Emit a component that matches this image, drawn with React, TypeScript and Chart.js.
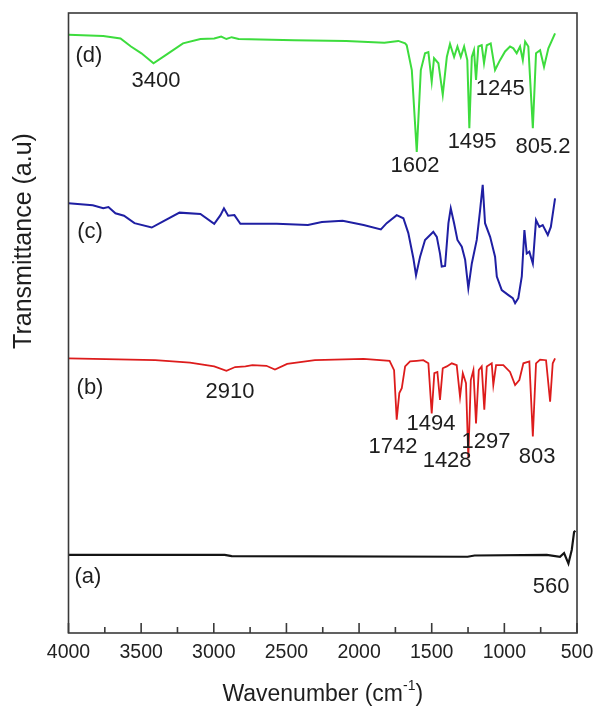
import React, { useEffect, useRef } from "react";
import { Chart, registerables } from "chart.js";

Chart.register(...registerables);

// ---- Data: wavenumber (cm-1) and stacked transmittance (a.u.) ----
const waveD = [4000, 3761, 3642, 3570, 3498, 3415, 3331, 3212, 3092, 2997, 2949, 2913, 2877, 2829, 2447, 2089, 1826, 1730, 1683, 1672, 1637, 1603, 1575, 1546, 1523, 1500, 1484, 1454, 1424, 1396, 1374, 1346, 1323, 1300, 1277, 1255, 1241, 1224, 1209, 1195, 1179, 1156, 1140, 1121, 1094, 1064, 1030, 995, 961, 938, 915, 892, 873, 857, 835, 804, 782, 754, 727, 697, 651];
const transD = [96.5, 96.3, 95.9, 94.6, 93.5, 91.9, 93.2, 95.1, 95.8, 95.9, 96.2, 95.8, 96.1, 95.8, 95.6, 95.5, 95.2, 95.5, 95.1, 94.8, 90.8, 77.6, 90.8, 93.5, 93.7, 88.9, 92.7, 91.9, 86.8, 92.9, 95.0, 92.9, 94.6, 92.9, 94.6, 92.4, 81.4, 92.9, 94.0, 89.2, 94.6, 94.8, 91.9, 94.8, 95.1, 90.8, 92.4, 93.8, 94.6, 94.3, 93.5, 94.6, 92.4, 95.4, 94.6, 81.4, 93.5, 94.0, 91.3, 94.3, 96.7];

const waveC = [4000, 3833, 3761, 3725, 3677, 3618, 3546, 3427, 3355, 3236, 3092, 2997, 2954, 2930, 2901, 2858, 2817, 2567, 2352, 2256, 2113, 1969, 1850, 1810, 1741, 1695, 1661, 1626, 1608, 1580, 1546, 1511, 1489, 1465, 1443, 1431, 1408, 1385, 1369, 1346, 1323, 1293, 1270, 1248, 1224, 1190, 1167, 1149, 1133, 1098, 1064, 1052, 1018, 972, 942, 926, 904, 880, 862, 846, 828, 804, 782, 759, 736, 701, 680, 651];
const transC = [69.3, 69.0, 68.5, 68.7, 67.7, 67.3, 66.1, 65.4, 66.3, 67.8, 67.6, 66.0, 67.4, 68.5, 67.3, 67.4, 66.0, 66.0, 65.8, 66.3, 66.5, 65.8, 65.1, 66.1, 67.4, 66.9, 64.5, 60.4, 57.7, 60.7, 63.4, 64.2, 64.7, 63.9, 61.2, 59.1, 59.2, 66.1, 68.5, 66.1, 63.4, 62.3, 60.2, 55.6, 59.6, 63.4, 68.2, 72.3, 66.1, 63.9, 60.7, 57.5, 55.3, 54.5, 54.0, 53.2, 54.0, 57.5, 65.0, 61.2, 61.5, 59.6, 66.6, 65.5, 65.8, 64.2, 65.5, 70.1];

const waveB = [4000, 3403, 3164, 2997, 2913, 2853, 2782, 2734, 2638, 2579, 2495, 2304, 1969, 1790, 1759, 1741, 1723, 1706, 1683, 1649, 1603, 1558, 1523, 1500, 1482, 1461, 1443, 1424, 1396, 1362, 1328, 1305, 1286, 1264, 1248, 1231, 1213, 1195, 1176, 1156, 1138, 1121, 1087, 1076, 1057, 1007, 961, 926, 897, 869, 828, 804, 782, 754, 713, 685, 667, 651];
const transB = [44.3, 44.0, 43.6, 43.0, 42.3, 42.9, 43.0, 43.2, 43.1, 42.5, 43.4, 44.0, 44.2, 43.9, 42.4, 34.4, 38.7, 39.5, 43.0, 43.8, 43.9, 44.0, 43.5, 35.4, 41.9, 42.1, 37.6, 42.7, 43.0, 43.5, 43.2, 38.1, 41.9, 40.3, 28.2, 40.8, 42.4, 33.8, 42.4, 43.0, 36.0, 43.0, 43.5, 40.0, 43.2, 43.2, 42.1, 40.0, 40.8, 43.5, 43.8, 31.7, 43.5, 44.1, 44.0, 37.3, 43.5, 44.3];

const waveA = [4000, 2925, 2877, 1253, 1205, 708, 617, 589, 559, 536, 520, 511];
const transA = [12.6, 12.6, 12.4, 12.3, 12.5, 12.6, 12.3, 12.9, 11.2, 13.4, 16.3, 16.5];

const xTicks = [4000, 3500, 3000, 2500, 2000, 1500, 1000, 500];

const labelTexts = ["(d)", "3400", "1602", "1495", "1245", "805.2", "(c)", "(b)", "2910", "1494", "1742", "1428", "1297", "803", "(a)", "560"];
const labelWaves = [3859, 3398, 1615, 1222, 1029, 734, 3852, 3852, 2888, 1505, 1766, 1394, 1126, 775, 3866, 678];
const labelTrans = [93.1, 89.0, 75.3, 79.2, 87.7, 78.4, 64.7, 39.5, 38.9, 33.7, 30.0, 27.7, 30.8, 28.4, 9.0, 7.4];

const FONT = "'Liberation Sans', Arial, Helvetica, sans-serif";

const toPts = (w: number[], t: number[]) => w.map((x, i) => ({ x, y: t[i] }));

const decorPlugin = {
  id: "decor",
  afterDraw(chart: any) {
    const { ctx, chartArea } = chart;
    const xs = chart.scales.x;
    const ys = chart.scales.y;
    const { left, right, top, bottom } = chartArea;
    ctx.save();
    // frame
    ctx.strokeStyle = "#3a3a3a";
    ctx.lineWidth = 1.6;
    ctx.strokeRect(left, top, right - left, bottom - top);
    // inward ticks on bottom axis
    for (let v = 500; v <= 4000; v += 250) {
      const px = xs.getPixelForValue(v);
      const len = v % 500 === 0 ? 10 : 6;
      ctx.beginPath();
      ctx.moveTo(px, bottom);
      ctx.lineTo(px, bottom - len);
      ctx.stroke();
    }
    // tick labels
    ctx.fillStyle = "#222";
    ctx.font = `19.5px ${FONT}`;
    ctx.textAlign = "center";
    ctx.textBaseline = "middle";
    xTicks.forEach((v) => {
      ctx.fillText(String(v), xs.getPixelForValue(v), bottom + 20);
    });
    // annotations
    ctx.fillStyle = "#1e1e1e";
    ctx.font = `22px ${FONT}`;
    labelTexts.forEach((t, i) => {
      ctx.fillText(t, xs.getPixelForValue(labelWaves[i]), ys.getPixelForValue(labelTrans[i]));
    });
    // x title
    const big = `23px ${FONT}`;
    const small = `14px ${FONT}`;
    const p1 = "Wavenumber (cm";
    const p2 = "-1";
    const p3 = ")";
    ctx.font = big;
    const w1 = ctx.measureText(p1).width;
    const w3 = ctx.measureText(p3).width;
    ctx.font = small;
    const w2 = ctx.measureText(p2).width;
    const total = w1 + w2 + w3;
    let cx = (left + right) / 2 - total / 2;
    const base = 701;
    ctx.textAlign = "left";
    ctx.textBaseline = "alphabetic";
    ctx.font = big;
    ctx.fillText(p1, cx, base);
    cx += w1;
    ctx.font = small;
    ctx.fillText(p2, cx, base - 11);
    cx += w2;
    ctx.font = big;
    ctx.fillText(p3, cx, base);
    // y title
    ctx.translate(24, 241);
    ctx.rotate(-Math.PI / 2);
    ctx.font = `25px ${FONT}`;
    ctx.textAlign = "center";
    ctx.textBaseline = "middle";
    ctx.fillText("Transmittance (a.u)", 0, 0);
    ctx.restore();
  },
};

export default function App() {
  const ref = useRef<HTMLCanvasElement | null>(null);
  useEffect(() => {
    if (!ref.current) return;
    const chart = new Chart(ref.current, {
      type: "line",
      data: {
        datasets: [
          { label: "(a)", data: toPts(waveA, transA), borderColor: "#141414", borderWidth: 2.2 },
          { label: "(b)", data: toPts(waveB, transB), borderColor: "#dd1c1c", borderWidth: 1.8 },
          { label: "(c)", data: toPts(waveC, transC), borderColor: "#1f1fa3", borderWidth: 2 },
          { label: "(d)", data: toPts(waveD, transD), borderColor: "#3ddc3d", borderWidth: 2 },
        ].map((d) => ({ ...d, pointRadius: 0, tension: 0, fill: false })),
      },
      options: {
        responsive: false,
        animation: false,
        layout: { padding: { left: 68.5, right: 18, top: 13, bottom: 73 } },
        plugins: { legend: { display: false }, tooltip: { enabled: false } },
        scales: {
          x: {
            type: "linear",
            min: 500,
            max: 4000,
            reverse: true,
            display: false,
          },
          y: { min: 0, max: 100, display: false },
        },
      },
      plugins: [decorPlugin],
    });
    return () => chart.destroy();
  }, []);
  return (
    <div style={{ position: "fixed", left: 0, top: 0, width: 595, height: 706, background: "#fff" }}>
      <canvas ref={ref} width={595} height={706} />
    </div>
  );
}
